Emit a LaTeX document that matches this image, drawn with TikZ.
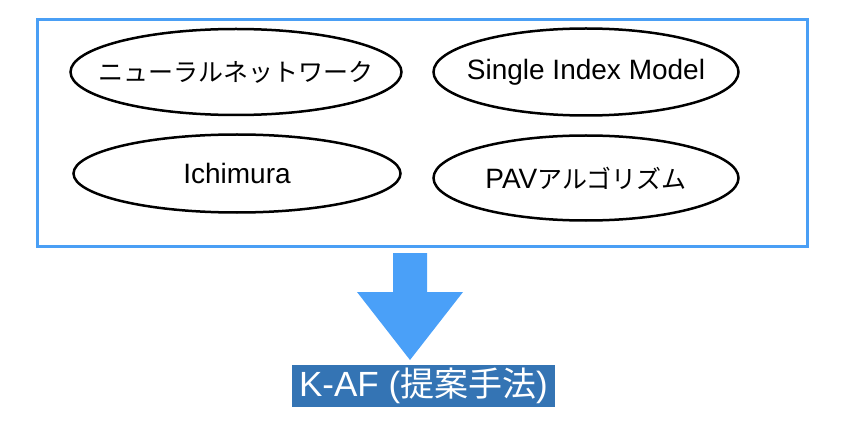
\documentclass[tikz,border=0pt]{standalone}
\usepackage{fontspec}
\setmainfont{Liberation Sans}
\newfontfamily\jpfont{Noto Sans CJK JP}
\definecolor{framblue}{HTML}{4A9FF5}
\definecolor{arrowblue}{HTML}{4AA0F8}
\definecolor{labelblue}{HTML}{3474B4}
\tikzset{
  method/.style = {inner sep = 0pt, font = \fontsize{28}{32}\selectfont},
  ring/.style = {line width = 2.5pt},
}
\begin{document}
\begin{tikzpicture}[x = 1pt, y = -1pt]
                \useasboundingbox (0,0) rectangle (856,422);
                \draw[line width = 3pt, framblue] (37.5,20) rectangle (807.5,246);
                \node[method] (nn) at (236,72)
                    {\jpfont\fontsize{25}{30}\selectfont ニューラルネットワーク};
                \node[method] (ichi) at (237,173.5) {Ichimura};
                \node[method] (sim) at (586,72) {Single Index Model};
                \node[method] (pav) at (586,178)
                    {PAV{\jpfont\fontsize{25}{30}\selectfont アルゴリズム}};
                \draw[ring] (nn.center) ellipse [x radius = 165.5, y radius = 43];
                \draw[ring] (ichi.center) ellipse [x radius = 163.5, y radius = 39];
                \draw[ring] (sim.center) ellipse [x radius = 152.5, y radius = 43.5];
                \draw[ring] (pav.center) ellipse [x radius = 152.5, y radius = 42.5];
                \fill[arrowblue] (393,253) -- (427,253) -- (427,292) -- (463,292)
                    -- (410,360) -- (357,292) -- (393,292) -- cycle;
                \node[fill = labelblue, text = white, inner sep = 0pt,
                      minimum width = 263pt, minimum height = 42pt,
                      font = \fontsize{35}{40}\selectfont] (kaf) at (423.5,386)
                    {K-AF ({\jpfont\fontsize{34}{40}\selectfont 提案手法})};
            \end{tikzpicture}
\end{document}
